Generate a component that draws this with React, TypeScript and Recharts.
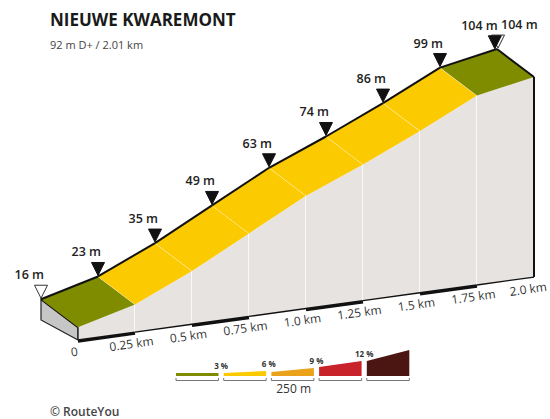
import { ComposedChart, Bar, XAxis, YAxis } from 'recharts'

// profile points
const distancesKm = [0, 0.25, 0.5, 0.75, 1.0, 1.25, 1.5, 1.75, 2.01]
const elevationsM = [16, 23, 35, 49, 63, 74, 86, 99, 104]
const tickLabels = ['0', '0.25 km', '0.5 km', '0.75 km', '1.0 km', '1.25 km', '1.5 km', '1.75 km']
const lastTickKm = 2.0
const lastTickLabel = '2.0 km'

// gradient classes
const gradeLimits = [3, 6, 9, 12]
const gradeColors = ['#7f8c00', '#fcca00', '#eba21b', '#c8232a', '#4b1611']
const legendLabels = ['3 %', '6 %', '9 %', '12 %']
const legendScaleLabel = '250 m'

const title = 'NIEUWE KWAREMONT'
const subtitle = '92 m D+ / 2.01 km'
const credit = '© RouteYou'

const W = 550
const H = 419
const M = { top: 140, right: 16, bottom: 79, left: 78 }
const BASE_ELEV = 10
const TOP_ELEV = 104
const SHEAR = 0.138
const DX = -37
const DY = -28
const FONT = '"Open Sans", "DejaVu Sans", sans-serif'

const segments = distancesKm.slice(0, -1).map((d, i) => {
  const e0 = elevationsM[i]
  const e1 = elevationsM[i + 1]
  const grade = ((e1 - e0) / ((distancesKm[i + 1] - d) * 1000)) * 100
  return { name: tickLabels[i], range: [e0, e1], grade, i }
})

const gradeColor = (g: number) => {
  const k = gradeLimits.findIndex((l) => g < l)
  return gradeColors[k === -1 ? gradeColors.length - 1 : k]
}

const pts = (a: number[][]) => a.map((p) => p.join(',')).join(' ')

function Marker({ x, y, label, hollow, anchor }: any) {
  return (
    <g>
      <polygon
        points={pts([[x - 6.5, y - 14], [x + 6.5, y - 14], [x, y - 1]])}
        fill={hollow ? '#fff' : '#111'}
        stroke={hollow ? '#333' : '#111'}
        strokeWidth={1}
      />
      <text x={x + 3} y={y - 20} textAnchor={anchor || 'end'}
        fontSize={12.5} fontWeight={600} fill="#222" fontFamily={FONT}>
        {label}
      </text>
    </g>
  )
}

function Tick({ x, y, label }: any) {
  return (
    <text x={x - 3} y={y + 16} textAnchor="middle" fontSize={12} fill="#333" fontFamily={FONT}
      transform={`rotate(-7.9 ${x - 3} ${y + 16})`}>
      {label}
    </text>
  )
}

function Segment(props: any) {
  const { x, y, width, height, payload } = props
  const [e0, e1] = payload.range
  const i = payload.i
  const last = i === segments.length - 1
  const x0 = x
  const x1 = x + width
  const yBase = y + height + ((e0 - BASE_ELEV) * height) / (e1 - e0)
  const sh = (px: number, py: number) => py - SHEAR * (px - M.left)
  const f0 = [x0, sh(x0, y + height)]
  const f1 = [x1, sh(x1, y)]
  const b0 = [x0, sh(x0, yBase)]
  const b1 = [x1, sh(x1, yBase)]
  const k0 = [f0[0] + DX, f0[1] + DY]
  const k1 = [f1[0] + DX, f1[1] + DY]
  const color = gradeColor(payload.grade)

  let endBits = null
  if (last) {
    const t = (lastTickKm - distancesKm[i]) / (distancesKm[i + 1] - distancesKm[i])
    const kt = [k0[0] + (k1[0] - k0[0]) * t, k0[1] + (k1[1] - k0[1]) * t]
    const bt = [b0[0] + (b1[0] - b0[0]) * t, b0[1] + (b1[1] - b0[1]) * t]
    endBits = (
      <g>
        <line x1={k1[0]} y1={k1[1]} x2={f1[0]} y2={f1[1]} stroke="#111" strokeWidth={2} />
        <line x1={f1[0]} y1={f1[1]} x2={b1[0]} y2={b1[1]} stroke="#111" strokeWidth={2} />
        <Marker x={k1[0] + 1} y={k1[1]} label={`${e1} m`} hollow anchor="start" />
        <Marker x={kt[0]} y={kt[1]} label={`${e1} m`} />
        <Tick x={bt[0]} y={bt[1]} label={lastTickLabel} />
      </g>
    )
  }

  return (
    <g>
      {i === 0 && (
        <g>
          <polygon points={pts([k0, f0, b0, [k0[0], b0[1] + DY + 8]])} fill="#c6c6c6" stroke="#222" strokeWidth={1.2} />
          <line x1={k0[0]} y1={k0[1]} x2={f0[0]} y2={f0[1]} stroke="#111" strokeWidth={2} />
        </g>
      )}
      <polygon points={pts([b0, f0, f1, b1])} fill="#e7e3e0" />
      {!last && <line x1={x1} y1={f1[1]} x2={x1} y2={b1[1]} stroke="#fff" strokeWidth={1.5} />}
      <polygon points={pts([f0, f1, k1, k0])} fill={color} />
      {!last && <line x1={f1[0]} y1={f1[1]} x2={k1[0]} y2={k1[1]} stroke="#fff" strokeOpacity={0.85} strokeWidth={1} />}
      <line x1={k0[0]} y1={k0[1]} x2={k1[0]} y2={k1[1]} stroke="#111" strokeWidth={2} />
      <line x1={b0[0]} y1={b0[1] + (i % 2 === 0 ? 1 : 0)} x2={b1[0]} y2={b1[1] + (i % 2 === 0 ? 1 : 0)}
        stroke="#111" strokeWidth={i % 2 === 0 ? 3.5 : 1.4} />
      {i === 0 && <line x1={x0} y1={f0[1]} x2={x0} y2={b0[1]} stroke="#222" strokeWidth={1.4} />}
      <Marker x={k0[0]} y={k0[1]} label={`${e0} m`} hollow={i === 0} />
      <Tick x={b0[0]} y={b0[1]} label={tickLabels[i]} />
      {endBits}
    </g>
  )
}

// legend wedges: left and right heights in px
const legendHeights = [[3, 3], [3, 5], [4, 8], [9, 15], [15, 26]]

function Overlay() {
  const lx = 176
  const step = 47.7
  const lw = 42.5
  const ly = 376
  return (
    <svg width={W} height={H} style={{ position: 'absolute', left: 0, top: 0, pointerEvents: 'none' }}>
      <text x={50} y={26} fontSize={17} fontWeight={700} fill="#1a1a1a" fontFamily={FONT}>{title}</text>
      <text x={50} y={49} fontSize={11} fill="#444" fontFamily={FONT}>{subtitle}</text>
      {gradeColors.map((c, i) => {
        const x0 = lx + i * step
        const x1 = x0 + lw
        const [hl, hr] = legendHeights[i]
        return (
          <g key={c}>
            <polygon points={pts([[x0, ly], [x0, ly - hl], [x1, ly - hr], [x1, ly]])} fill={c} />
            <polyline points={pts([[x0, 378], [x0, 380.5], [x1, 380.5], [x1, 378]])} fill="none" stroke="#777" strokeWidth={1} />
          </g>
        )
      })}
      {legendLabels.map((l, i) => {
        const gx = lx + i * step + lw + (step - lw) / 2
        return (
          <text key={l} x={gx} y={ly - legendHeights[i][1] - 4} textAnchor="middle" fontSize={8}
            fontWeight={700} fill="#333" fontFamily={FONT}>{l}</text>
        )
      })}
      <text x={lx + 2 * step + lw / 2 + 1} y={393} textAnchor="middle" fontSize={12} fill="#333" fontFamily={FONT}>
        {legendScaleLabel}
      </text>
      <text x={50} y={416} fontSize={12} fontWeight={600} fill="#444" fontFamily={FONT}>{credit}</text>
    </svg>
  )
}

export default function App() {
  return (
    <div style={{ position: 'absolute', left: 0, top: 0, width: W, height: H, background: '#fff' }}>
      <ComposedChart width={W} height={H} data={segments} margin={M} barCategoryGap={0} barGap={0}>
        <XAxis dataKey="name" hide />
        <YAxis hide type="number" domain={[BASE_ELEV, TOP_ELEV]} />
        <Bar dataKey="range" isAnimationActive={false} shape={(p: any) => <Segment {...p} />} />
      </ComposedChart>
      <Overlay />
    </div>
  )
}
